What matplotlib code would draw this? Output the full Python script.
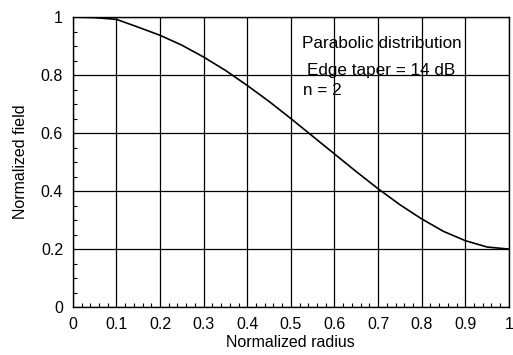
import numpy as np
import matplotlib.pyplot as plt
from matplotlib.ticker import MultipleLocator

plt.rcParams['font.family'] = ['Liberation Sans', 'DejaVu Sans']

# valores
raio = [0.0, 0.05, 0.1, 0.15, 0.2, 0.25, 0.3, 0.35, 0.4, 0.45, 0.5,
        0.55, 0.6, 0.65, 0.7, 0.75, 0.8, 0.85, 0.9, 0.95, 1.0]
campo = [1.0, 0.998, 0.992, 0.965, 0.937, 0.903, 0.862, 0.816, 0.764, 0.709, 0.65,
         0.589, 0.528, 0.467, 0.408, 0.353, 0.304, 0.261, 0.229, 0.207, 0.2]

xticks = [0, 0.1, 0.2, 0.3, 0.4, 0.5, 0.6, 0.7, 0.8, 0.9, 1.0]
xlabels = ['0', '0.1', '0.2', '0.3', '0.4', '0.5', '0.6', '0.7', '0.8', '0.9', '1']
yticks = [0, 0.2, 0.4, 0.6, 0.8, 1.0]
ylabels = ['0', '0.2', '0.4', '0.6', '0.8', '1']

fig = plt.figure(figsize=(5.13, 3.55), dpi=100)
ax = fig.add_axes([0.142, 0.135, 0.850, 0.817])

ax.plot(raio, campo, color='black', lw=1.2)

ax.set_xlim(0, 1)
ax.set_ylim(0, 1)
ax.set_xticks(xticks, xlabels)
ax.set_yticks(yticks, ylabels)
ax.xaxis.set_minor_locator(MultipleLocator(0.02))
ax.yaxis.set_minor_locator(MultipleLocator(0.05))
ax.tick_params(which='both', direction='in', top=False, right=False, labelsize=11.5)
ax.tick_params(which='major', length=0, pad=7)
ax.tick_params(which='minor', length=3, width=0.8)
ax.grid(True, which='major', color='black', lw=0.9)
for s in ax.spines.values():
    s.set_linewidth(1.0)

ax.set_xlabel('Normalized radius', fontsize=11.5, labelpad=2)
ax.set_ylabel('Normalized field', fontsize=11.5, labelpad=9)

ax.text(0.525, 0.91, 'Parabolic distribution', fontsize=12.3, va='center', ha='left')
ax.text(0.537, 0.817, 'Edge taper = 14 dB', fontsize=12.3, va='center', ha='left')
ax.text(0.528, 0.748, 'n = 2', fontsize=12.3, va='center', ha='left')

plt.savefig('out.png', dpi=100)
